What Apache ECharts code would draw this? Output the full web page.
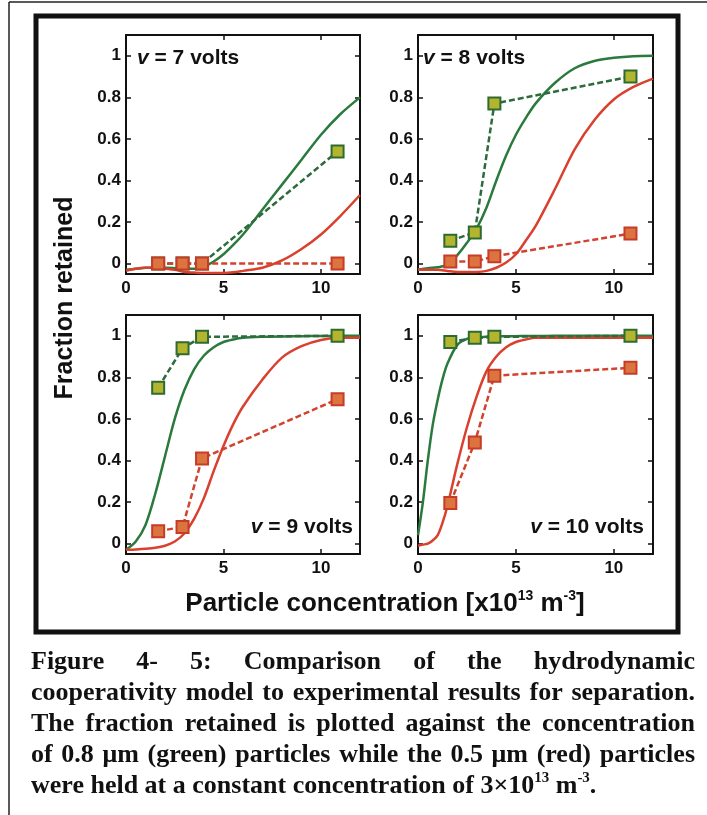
<!DOCTYPE html>
<html>
<head>
<meta charset="utf-8">
<script src="https://cdn.jsdelivr.net/npm/echarts@6.0.0/dist/echarts.min.js"></script>
<style>
html, body { margin: 0; padding: 0; background: #fff; }
#chart { width: 707px; height: 815px; }
</style>
</head>
<body>
<div id="chart"></div>
<script>
// concentrations of the 0.8 um particles used in the experiments
var concX = [1.65, 2.9, 3.9, 10.85];

// measured fraction retained (green = 0.8 um, red = 0.5 um)
var expGreen7 = [0, 0, 0, 0.54];
var expRed7 = [0, 0, 0, 0];
var expGreen8 = [0.11, 0.15, 0.77, 0.9];
var expRed8 = [0.01, 0.01, 0.035, 0.145];
var expGreen9 = [0.75, 0.94, 0.995, 1.0];
var expRed9 = [0.06, 0.08, 0.41, 0.695];
var expGreen10 = [0.97, 0.99, 0.995, 1.0];
var expRed10 = [0.195, 0.487, 0.808, 0.846];

// model curves
var fitX = [0, 0.5, 1, 1.5, 2, 2.5, 3, 3.5, 4, 4.5, 5, 5.5, 6, 7, 8, 9, 10, 11, 12];
var fitGreen7 = [-0.03, -0.025, -0.02, -0.02, -0.02, -0.022, -0.025, -0.025, -0.015, 0.01, 0.045, 0.09, 0.14, 0.26, 0.38, 0.5, 0.62, 0.72, 0.8];
var fitRed7 = [-0.035, -0.025, -0.02, -0.02, -0.025, -0.03, -0.04, -0.043, -0.045, -0.045, -0.045, -0.042, -0.035, -0.02, 0.015, 0.07, 0.14, 0.23, 0.33];
var fitGreen8 = [-0.03, -0.022, -0.018, -0.005, 0.04, 0.1, 0.17, 0.27, 0.4, 0.52, 0.62, 0.7, 0.77, 0.87, 0.94, 0.975, 0.99, 0.998, 1.0];
var fitRed8 = [-0.03, -0.03, -0.03, -0.035, -0.04, -0.04, -0.04, -0.035, -0.02, 0.005, 0.045, 0.11, 0.18, 0.36, 0.55, 0.69, 0.79, 0.85, 0.89];
var fitGreen9 = [-0.03, 0.01, 0.09, 0.24, 0.42, 0.6, 0.74, 0.84, 0.905, 0.945, 0.97, 0.982, 0.99, 0.995, 0.997, 0.998, 0.999, 1, 1];
var fitRed9 = [-0.03, -0.028, -0.025, -0.02, -0.01, 0.01, 0.05, 0.12, 0.22, 0.35, 0.47, 0.575, 0.66, 0.79, 0.895, 0.95, 0.98, 0.99, 0.99];
var fitX10 = [0, 0.25, 0.5, 0.75, 1, 1.25, 1.5, 2, 2.5, 3, 3.5, 4, 4.5, 5, 5.5, 6, 7, 8, 9, 10, 11, 12];
var fitGreen10 = [0.04, 0.2, 0.4, 0.57, 0.69, 0.79, 0.865, 0.955, 0.985, 0.993, 0.996, 0.997, 0.998, 0.998, 0.999, 0.999, 1, 1, 1, 1, 1, 1];
var fitRed10 = [-0.01, -0.005, 0, 0.015, 0.04, 0.1, 0.18, 0.38, 0.56, 0.71, 0.83, 0.9, 0.945, 0.97, 0.982, 0.99, 0.99, 0.99, 0.99, 0.99, 0.99, 0.99];

var volts = ['7', '8', '9', '10'];
var xTicks = [0, 5, 10];
var yTicks = [0, 0.2, 0.4, 0.6, 0.8, 1];

var captionLines = [
    'Figure 4- 5: Comparison of the hydrodynamic',
    'cooperativity model to experimental results for separation.',
    'The fraction retained is plotted against the concentration',
    'of 0.8 \u03bcm (green) particles while the 0.5 \u03bcm (red) particles'
];

var GREEN = '#2b7a3d';
var RED = '#d9402e';
var SANS = '"Liberation Sans", Arial, Helvetica, sans-serif';
var SERIF = '"Liberation Serif", "Times New Roman", serif';

function zip(xs, ys) {
    var out = [];
    for (var i = 0; i < xs.length; i++) out.push([xs[i], ys[i]]);
    return out;
}

var panels = [
    {fx: fitX, fg: fitGreen7, fr: fitRed7, eg: expGreen7, er: expRed7},
    {fx: fitX, fg: fitGreen8, fr: fitRed8, eg: expGreen8, er: expRed8},
    {fx: fitX, fg: fitGreen9, fr: fitRed9, eg: expGreen9, er: expRed9},
    {fx: fitX10, fg: fitGreen10, fr: fitRed10, eg: expGreen10, er: expRed10}
];
var boxes = [[126, 35, 234, 239], [418, 35, 235, 239], [126, 315, 234, 239], [418, 315, 235, 239]];
var labelPos = [[137, 58, 'left'], [423, 58, 'left'], [353, 527, 'right'], [644, 527, 'right']];

var grids = [], xAxes = [], yAxes = [], series = [], graphics = [];

var axisLine = {show: true, onZero: false, lineStyle: {color: '#111', width: 2}};
var tick = {show: true, inside: true, length: 5, lineStyle: {color: '#111', width: 1.5}};
var tickLabel = {color: '#111', fontSize: 17, fontWeight: 'bold', fontFamily: SANS};

for (var i = 0; i < 4; i++) {
    var b = boxes[i];
    grids.push({left: b[0], top: b[1], width: b[2], height: b[3], containLabel: false});
    [0, 1].forEach(function (k) {
        xAxes.push({
            type: 'value', gridIndex: i, min: 0, max: 12,
            position: k === 0 ? 'bottom' : 'top',
            axisLine: axisLine,
            axisTick: Object.assign({customValues: xTicks}, tick),
            axisLabel: Object.assign({show: k === 0, margin: 6, customValues: xTicks}, tickLabel),
            splitLine: {show: false}
        });
        yAxes.push({
            type: 'value', gridIndex: i, min: -0.05, max: 1.1,
            position: k === 0 ? 'left' : 'right',
            axisLine: axisLine,
            axisTick: Object.assign({customValues: yTicks}, tick),
            axisLabel: Object.assign({show: k === 0, margin: 5, customValues: yTicks}, tickLabel),
            splitLine: {show: false}
        });
    });
    var p = panels[i];
    series.push({
        type: 'line', xAxisIndex: 2 * i, yAxisIndex: 2 * i,
        data: zip(p.fx, p.fg), smooth: 0.3, showSymbol: false,
        lineStyle: {color: GREEN, width: 2.5}, silent: true, z: 2
    });
    series.push({
        type: 'line', xAxisIndex: 2 * i, yAxisIndex: 2 * i,
        data: zip(p.fx, p.fr), smooth: 0.3, showSymbol: false,
        lineStyle: {color: RED, width: 2.5}, silent: true, z: 2
    });
    series.push({
        type: 'line', xAxisIndex: 2 * i, yAxisIndex: 2 * i,
        data: zip(concX, p.eg), symbol: 'rect', symbolSize: 12,
        itemStyle: {color: '#b3b52e', borderColor: '#2e6b30', borderWidth: 2},
        lineStyle: {color: '#2e6b3c', width: 2.5, type: [6, 3]}, z: 3
    });
    series.push({
        type: 'line', xAxisIndex: 2 * i, yAxisIndex: 2 * i,
        data: zip(concX, p.er), symbol: 'rect', symbolSize: 12,
        itemStyle: {color: '#dc7440', borderColor: '#c73b27', borderWidth: 2},
        lineStyle: {color: '#d2432f', width: 2.5, type: [6, 3]}, z: 4
    });
    var lp = labelPos[i];
    graphics.push({
        type: 'text', x: lp[0], y: lp[1], z: 10,
        style: {
            text: '{i|v} = ' + volts[i] + ' volts', align: lp[2], verticalAlign: 'middle',
            fontSize: 21, fontWeight: 'bold', fontFamily: SANS, fill: '#111',
            rich: {i: {fontStyle: 'italic', fontSize: 21, fontWeight: 'bold', fontFamily: SANS}}
        }
    });
}

// frames
graphics.push({type: 'line', shape: {x1: 9, y1: 2, x2: 707, y2: 2}, style: {stroke: '#222', lineWidth: 1.5}});
graphics.push({type: 'line', shape: {x1: 9, y1: 2, x2: 9, y2: 815}, style: {stroke: '#222', lineWidth: 1.5}});
graphics.push({type: 'rect', shape: {x: 36, y: 16, width: 642, height: 616}, style: {fill: 'none', stroke: '#111', lineWidth: 5}});

// axis titles
graphics.push({
    type: 'text', x: 65, y: 298, rotation: Math.PI / 2,
    style: {text: 'Fraction retained', align: 'center', verticalAlign: 'middle', fontSize: 25, fontWeight: 'bold', fontFamily: SANS, fill: '#111'}
});
graphics.push({
    type: 'text', x: 385, y: 604,
    style: {
        text: 'Particle concentration [x10{sup|13} m{sup|-3}]', align: 'center', verticalAlign: 'middle',
        fontSize: 26, fontWeight: 'bold', fontFamily: SANS, fill: '#111', lineHeight: 30,
        rich: {sup: {fontSize: 14, fontWeight: 'bold', fontFamily: SANS, verticalAlign: 'top', lineHeight: 30}}
    }
});

// caption, justified by hand
var CAP_SIZE = 26;
var ctx = document.createElement('canvas').getContext('2d');
ctx.font = 'bold ' + CAP_SIZE + 'px ' + SERIF;
var capLeft = 31, capRight = 695, capY = [662, 693, 724, 755, 786];
captionLines.forEach(function (line, n) {
    var words = line.split(' ');
    var widths = words.map(function (w) { return ctx.measureText(w).width; });
    var total = widths.reduce(function (a, c) { return a + c; }, 0);
    var gap = (capRight - capLeft - total) / (words.length - 1);
    var x = capLeft;
    words.forEach(function (w, k) {
        graphics.push({
            type: 'text', x: x, y: capY[n],
            style: {text: w, align: 'left', verticalAlign: 'middle', fontSize: CAP_SIZE, fontWeight: 'bold', fontFamily: SERIF, fill: '#111'}
        });
        x += widths[k] + gap;
    });
});
graphics.push({
    type: 'text', x: capLeft, y: capY[4],
    style: {
        text: 'were held at a constant concentration of 3\u00d710{sup|13} m{sup|-3}.', align: 'left', verticalAlign: 'middle',
        fontSize: CAP_SIZE, fontWeight: 'bold', fontFamily: SERIF, fill: '#111', lineHeight: 30,
        rich: {sup: {fontSize: 15, fontWeight: 'bold', fontFamily: SERIF, verticalAlign: 'top', lineHeight: 30}}
    }
});

var myChart = echarts.init(document.getElementById('chart'));
var option = {
    backgroundColor: '#fff',
    animation: false,
    grid: grids,
    xAxis: xAxes,
    yAxis: yAxes,
    series: series,
    graphic: graphics
};
myChart.setOption(option);
</script>
</body>
</html>
